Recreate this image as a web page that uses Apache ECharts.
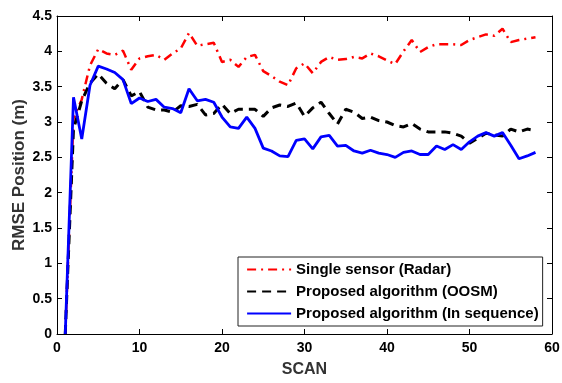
<!DOCTYPE html>
<html>
<head>
<meta charset="utf-8">
<script src="https://cdn.jsdelivr.net/npm/echarts@6/dist/echarts.min.js"></script>
<style>
html,body{margin:0;padding:0;background:#fff;}
#c{width:562px;height:383px;}
</style>
</head>
<body>
<div id="c"></div>
<script>
const scans = [1,2,3,4,5,6,7,8,9,10,11,12,13,14,15,16,17,18,19,20,21,22,23,24,25,26,27,28,29,30,31,32,33,34,35,36,37,38,39,40,41,42,43,44,45,46,47,48,49,50,51,52,53,54,55,56,57,58];
const radar = [0,3.05,3.32,3.8,4.03,3.97,3.95,4.01,3.74,3.9,3.93,3.95,3.88,3.97,4.04,4.26,4.08,4.1,4.12,3.85,3.88,3.78,3.92,3.95,3.72,3.65,3.57,3.52,3.76,3.83,3.69,3.85,3.92,3.88,3.89,3.92,3.9,3.97,3.93,3.87,3.82,4.0,4.16,3.99,4.06,4.1,4.1,4.1,4.09,4.16,4.2,4.24,4.22,4.32,4.13,4.16,4.18,4.2];
const oosm = [0,2.9,3.3,3.55,3.68,3.55,3.47,3.6,3.37,3.43,3.21,3.17,3.17,3.14,3.23,3.22,3.25,3.1,3.12,3.25,3.12,3.18,3.18,3.18,3.08,3.2,3.24,3.22,3.27,3.08,3.2,3.28,3.12,2.97,3.18,3.14,3.05,3.07,3.02,3.0,2.95,2.93,2.98,2.9,2.86,2.86,2.86,2.84,2.8,2.7,2.77,2.84,2.82,2.8,2.9,2.86,2.9,2.88];
const inSeq = [0,3.35,2.76,3.52,3.79,3.75,3.7,3.6,3.26,3.34,3.29,3.32,3.21,3.19,3.13,3.47,3.3,3.32,3.28,3.07,2.93,2.91,3.07,2.91,2.63,2.59,2.52,2.51,2.74,2.76,2.62,2.79,2.81,2.66,2.67,2.59,2.56,2.6,2.56,2.54,2.5,2.57,2.59,2.54,2.54,2.66,2.61,2.68,2.61,2.72,2.8,2.85,2.8,2.85,2.67,2.48,2.52,2.57];
const seriesNames = ['Single sensor (Radar)','Proposed algorithm (OOSM)','Proposed algorithm (In sequence)'];
const xTicks = {min:0, max:60, interval:10};
const yTicks = {min:0, max:4.5, interval:0.5};

const pairs = vals => scans.map((s,i)=>[s, vals[i]]);
const font = 'Liberation Sans, Arial, sans-serif';
const axisCommon = {
  axisLine:{show:true, onZero:false, lineStyle:{color:'#000', width:1}},
  axisTick:{show:true, inside:true, length:5, lineStyle:{color:'#000'}},
  splitLine:{show:false}
};
const chart = echarts.init(document.getElementById('c'), null, {renderer:'canvas'});
chart.setOption({
  animation:false,
  backgroundColor:'#fff',
  grid:{left:57, right:10, top:16, bottom:49, containLabel:false, outerBoundsMode:'none'},
  xAxis:[
    Object.assign({type:'value', position:'bottom', min:xTicks.min, max:xTicks.max, interval:xTicks.interval,
      name:'SCAN', nameLocation:'middle', nameGap:28, nameMoveOverlap:false,
      nameTextStyle:{fontFamily:font, fontWeight:'bold', fontSize:16, color:'#333'},
      axisLabel:{fontFamily:font, fontWeight:'bold', fontSize:14, color:'#000', margin:7}}, axisCommon),
    Object.assign({type:'value', position:'top', min:xTicks.min, max:xTicks.max, interval:xTicks.interval,
      axisLabel:{show:false}}, axisCommon)
  ],
  yAxis:[
    Object.assign({type:'value', position:'left', min:yTicks.min, max:yTicks.max, interval:yTicks.interval,
      name:'RMSE Position (m)', nameLocation:'middle', nameGap:29, nameRotate:90, nameMoveOverlap:false,
      nameTextStyle:{fontFamily:font, fontWeight:'bold', fontSize:17, color:'#333'},
      axisLabel:{fontFamily:font, fontWeight:'bold', fontSize:14, color:'#000', margin:5}}, axisCommon),
    Object.assign({type:'value', position:'right', min:yTicks.min, max:yTicks.max, interval:yTicks.interval,
      axisLabel:{show:false}}, axisCommon)
  ],
  legend:{
    show:true, orient:'vertical', left:238, top:257,
    padding:[5,4,5,8], itemGap:7, itemWidth:44, itemHeight:14,
    backgroundColor:'#fff', borderColor:'#222', borderWidth:1,
    itemStyle:{opacity:0},
    lineStyle:{width:2.2},
    textStyle:{fontFamily:font, fontWeight:'bold', fontSize:15, color:'#000'},
    data:seriesNames
  },
  series:[
    {name:seriesNames[0], type:'line', symbol:'none', data:pairs(radar), z:2,
      lineStyle:{color:'#ff0000', width:2.5, type:[9,5,2,5]}, itemStyle:{color:'#ff0000'}},
    {name:seriesNames[1], type:'line', symbol:'none', data:pairs(oosm), z:3,
      lineStyle:{color:'#000000', width:3, type:[9,6]}, itemStyle:{color:'#000'}},
    {name:seriesNames[2], type:'line', symbol:'none', data:pairs(inSeq), z:4,
      lineStyle:{color:'#0000ff', width:2.8}, itemStyle:{color:'#0000ff'}}
  ]
});
</script>
</body>
</html>
